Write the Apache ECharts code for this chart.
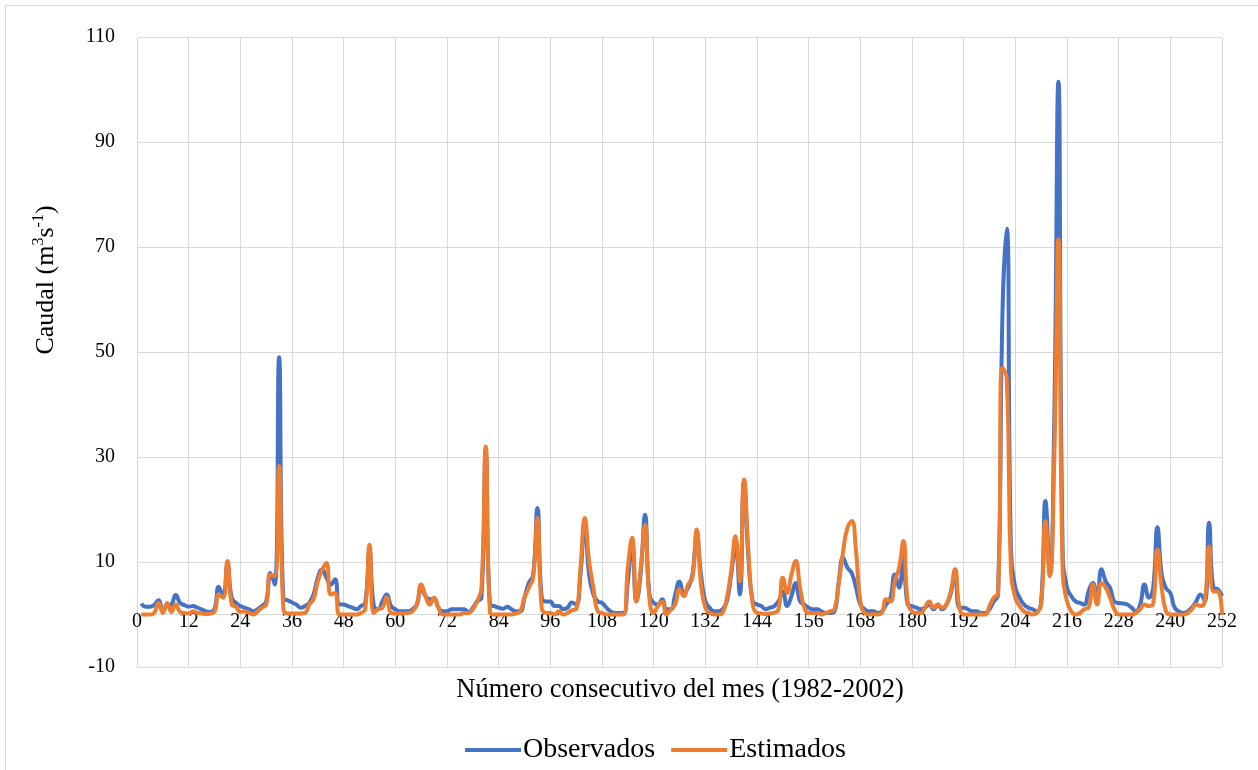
<!DOCTYPE html>
<html><head><meta charset="utf-8">
<script src="https://cdn.jsdelivr.net/npm/echarts@6/dist/echarts.min.js"></script>
<style>html,body{margin:0;padding:0;background:#fff}#c{width:1258px;height:770px}</style>
</head><body><div id="c"></div>
<script>
// Month numbers 1..252
const months = Array.from({length: 252}, (_, i) => i + 1);

const observados = [
2.1,1.5,1.5,1.8,2.7,1.0,1.6,1.9,3.7,2.2,1.8,1.5,1.6,1.3,1.0,0.6,0.5,1.0,5.3,3.5,9.5,3.2,2.2,1.6,
1.3,1.0,0.6,1.0,1.6,2.5,7.9,5.7,49.0,3.0,2.7,2.3,1.9,1.3,1.6,2.2,3.8,7.0,8.6,7.0,5.7,6.7,1.9,1.9,
1.6,1.3,1.0,1.6,2.2,12.0,1.6,1.0,2.5,3.8,1.6,1.0,0.6,0.6,0.6,1.0,1.9,5.1,3.5,2.9,2.9,1.3,0.6,0.6,
1.0,1.0,1.0,1.0,0.4,1.3,2.5,3.2,30.5,1.9,1.6,1.3,1.1,1.5,1.0,0.6,0.6,3.2,6.0,7.5,20.3,3.2,2.5,2.5,
1.6,1.6,1.0,1.3,2.3,1.9,7.6,17.5,7.6,3.8,2.5,2.2,1.3,0.6,0.3,0.3,0.3,6.3,13.5,2.5,8.0,19.0,3.8,2.2,
1.9,2.9,1.0,1.0,3.8,6.3,4.1,5.1,7.6,15.0,7.6,2.5,1.3,0.6,0.6,1.0,2.5,7.6,13.0,3.8,25.5,10.8,2.5,1.9,
1.6,1.0,1.3,1.6,2.5,4.4,1.6,3.5,6.0,2.5,1.9,1.3,1.0,1.0,0.6,0.3,0.3,0.6,6.3,10.8,8.9,7.9,5.1,1.9,
1.0,0.6,0.6,0.3,0.6,1.9,3.2,7.6,5.1,11.0,1.9,1.6,1.3,1.0,1.3,1.9,1.0,1.9,1.0,1.9,4.0,7.9,1.3,1.3,
1.0,0.6,0.6,0.3,0.3,1.0,2.5,3.8,57.0,73.5,12.0,5.1,3.2,1.9,1.3,1.0,0.6,2.5,21.6,7.6,35.0,101.5,12.0,5.1,
3.5,2.5,2.2,1.9,4.4,6.0,3.2,8.6,6.3,5.1,2.5,2.2,2.1,1.9,1.3,0.6,1.9,5.7,3.2,5.0,16.6,7.6,5.0,4.1,
1.3,0.6,0.3,0.6,1.3,2.5,3.8,2.5,17.5,5.1,4.8,3.5
];

const estimados = [
0,0,0,0.3,2.2,0.3,2.2,0.5,1.9,0.5,0.3,0.2,0.6,0.3,0.2,0.1,0.2,0.5,3.8,3.2,10.2,1.9,1.5,0.5,
0.6,0.3,0,0.6,1.3,1.9,7.6,7.3,28.3,1.0,0.2,0.2,0.2,0.2,0.3,1.9,2.9,6.3,8.5,9.8,3.8,4.1,0,0,
0,0,0,0.3,1.0,13.3,0.3,1.0,1.3,3.3,0.3,0.2,0.2,0.2,0.3,0.6,1.9,5.7,3.5,1.9,3.2,1.3,0,0,
0,0,0,0.3,0.3,1.0,2.5,5.0,32.0,0.3,0,0,0,0,0,0.2,0.6,3.2,5.1,7.0,18.4,1.3,0.3,0.3,
0,0.6,0,0.3,0.8,1.0,8.9,18.4,10.2,5.1,0.6,0.3,0,0,0,0,0,8.9,14.6,2.5,8.9,17.1,3.2,0.3,
1.6,2.5,0,1.0,1.9,4.8,3.5,5.7,7.0,16.2,5.7,1.3,0.3,0,0,0.3,3.2,8.3,14.9,6.3,25.7,12.0,1.9,0.3,
0.2,0.1,0.2,0.3,1.0,7.0,4.1,7.6,10.2,5.1,1.3,0.3,0.3,0.3,0,0.3,0.6,1.0,6.0,12.0,16.5,17.8,12.0,2.5,
0.3,0,0.1,0,0.3,2.9,2.5,6.3,8.9,14.0,2.5,0.6,0.3,0.3,1.3,2.5,1.3,1.9,1.3,1.9,4.4,8.6,1.3,0,
0,0,0,0,0,1.6,3.2,4.1,47.0,45.0,8.0,3.2,1.6,0.6,0.3,0,0.3,1.9,17.8,7.3,28.0,71.5,8.0,2.5,
0.6,0,0.3,1.0,1.3,5.7,1.9,6.0,5.1,3.2,1.0,0,0,0,0,0.3,1.0,1.9,1.6,2.0,12.4,5.1,0.6,0,
0,0,0,0.3,1.0,1.9,1.6,2.5,13.0,4.4,4.4,0
];

const font = 'Liberation Serif';
const chart = echarts.init(document.getElementById('c'), null, {renderer: 'canvas'});
chart.setOption({
  animation: false,
  backgroundColor: '#fff',
  grid: {left: 137, right: 36, top: 37, bottom: 103, containLabel: false},
  xAxis: {
    type: 'value', min: 0, max: 252, interval: 12, offset: -52.5,
    axisLine: {show: true, onZero: false, lineStyle: {color: '#d9d9d9', width: 1}},
    axisTick: {show: false},
    axisLabel: {color: '#000', fontFamily: font, fontSize: 20, margin: -3},
    splitLine: {show: true, lineStyle: {color: '#d9d9d9', width: 1}}
  },
  yAxis: {
    type: 'value', min: -10, max: 110, interval: 20,
    axisLine: {show: false, onZero: false}, axisTick: {show: false},
    axisLabel: {color: '#000', fontFamily: font, fontSize: 20, margin: 22},
    splitLine: {show: true, lineStyle: {color: '#d9d9d9', width: 1}}
  },
  legend: {
    bottom: 1, left: 460, icon: 'rect', itemWidth: 56, itemHeight: 4, itemGap: 16,
    textStyle: {fontFamily: font, fontSize: 28, color: '#000', padding: [0,0,0,-3]},
    data: ['Observados', 'Estimados']
  },
  graphic: [
    {type: 'text', x: 45, y: 280, rotation: Math.PI / 2,
     style: {text: '{a|Caudal (m}{s|3}{a|s}{s|-1}{a|)}', align: 'center', verticalAlign: 'middle',
       rich: {a: {fontFamily: font, fontSize: 26, fill: '#000', lineHeight: 28, verticalAlign: 'bottom'},
              s: {fontFamily: font, fontSize: 16, fill: '#000', lineHeight: 28, verticalAlign: 'top', padding: [0,0,12,0]}}}},
    {type: 'text', x: 680, y: 690,
     style: {text: 'Número consecutivo del mes (1982-2002)', fontFamily: font, fontSize: 26.5, fill: '#000', align: 'center', verticalAlign: 'middle'}},
    {type: 'rect', shape: {x: 5.5, y: 5.5, width: 1262, height: 770}, style: {fill: 'none', stroke: '#d9d9d9', lineWidth: 1}, silent: true}
  ],
  series: [
    {name: 'Observados', type: 'line', data: months.map((m, i) => [m, observados[i]]),
     smooth: 0.5, symbol: 'none', lineStyle: {color: '#4472C4', width: 4}, itemStyle: {color: '#4472C4'}, z: 2},
    {name: 'Estimados', type: 'line', data: months.map((m, i) => [m, estimados[i]]),
     smooth: 0.5, symbol: 'none', lineStyle: {color: '#ED7D31', width: 4}, itemStyle: {color: '#ED7D31'}, z: 3}
  ]
});
</script></body></html>
